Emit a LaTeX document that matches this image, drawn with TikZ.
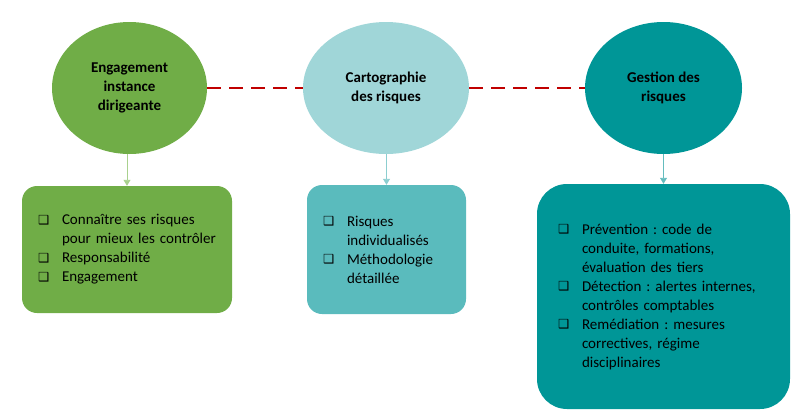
\documentclass[tikz,border=0pt]{standalone}
\usepackage{fontspec}
\setmainfont{Carlito}
\newfontfamily\symfont{DejaVu Sans}
\usetikzlibrary{shapes.geometric,arrows.meta}

\definecolor{engGreen}{RGB}{112,173,71}
\definecolor{engArrow}{RGB}{169,209,142}
\definecolor{cartoLight}{RGB}{160,214,216}
\definecolor{cartoBox}{RGB}{90,187,189}
\definecolor{cartoArrow}{RGB}{140,206,208}
\definecolor{gestTeal}{RGB}{0,150,151}
\definecolor{gestArrow}{RGB}{100,188,190}
\definecolor{linkRed}{RGB}{192,0,0}

\newcommand{\chk}[1]{\hangindent=24pt\hangafter=1\noindent\makebox[24pt][l]{\raisebox{0.5pt}{\symfont\fontsize{12.5}{12}\selectfont ❑}}#1\par}

\tikzset{
  phase/.style={ellipse, inner sep=0pt, minimum height=132pt, align=center,
    font=\bfseries\fontsize{15}{19}\selectfont},
  detail/.style={rounded corners=15pt, inner ysep=0pt, align=left,
    font=\frenchspacing\fontsize{15}{19}\selectfont},
  link/.style={linkRed, line width=2.8pt, dash pattern=on 14pt off 8pt},
  down/.style={-{Triangle[width=7pt,length=6pt]}, line width=0.9pt},
}

\begin{document}
\begin{tikzpicture}[x=1pt, y=-1pt]
\useasboundingbox (0,0) rectangle (800,418);
% Phases
\node[phase, fill=engGreen, minimum width=155pt] (engEll) at (129.5,88) {Engagement\\instance\\dirigeante};
\node[phase, fill=cartoLight, minimum width=166pt] (cartoEll) at (386,88) {Cartographie\\des risques};
\node[phase, fill=gestTeal, minimum width=157pt] (gestEll) at (663.5,88) {Gestion des\\risques};

% Details
\node[detail, fill=engGreen, minimum width=210pt, minimum height=127pt, inner xsep=16pt, text width=178pt] (engBox) at (127,249.5) {%
\chk{Connaître ses risques\newline pour mieux les contrôler}
\chk{Responsabilité}
\chk{Engagement}};
\node[detail, fill=cartoBox, minimum width=159pt, minimum height=129pt, inner xsep=16pt, text width=127pt] (cartoBox) at (386.5,249.5) {%
\chk{Risques\newline individualisés}
\chk{Méthodologie\newline détaillée}};
\node[detail, fill=gestTeal, rounded corners=30pt, minimum width=253pt, minimum height=225pt, inner xsep=21pt, text width=211pt] (gestBox) at (663.5,296.5) {%
\chk{Prévention : code de\newline conduite, formations,\newline évaluation des tiers}
\chk{Détection : alertes internes,\newline contrôles comptables}
\chk{Remédiation : mesures\newline correctives, régime\newline disciplinaires}};

% Links
\draw[link] (engEll.east) -- (cartoEll.west);
\draw[link] (cartoEll.east) -- (gestEll.west);
\draw[down, engArrow] (engEll.south -| engBox.north) -- (engBox.north);
\draw[down, cartoArrow] (cartoEll.south -| cartoBox.north) -- (cartoBox.north);
\draw[down, gestArrow] (gestEll.south) -- (gestBox.north);
\end{tikzpicture}
\end{document}
